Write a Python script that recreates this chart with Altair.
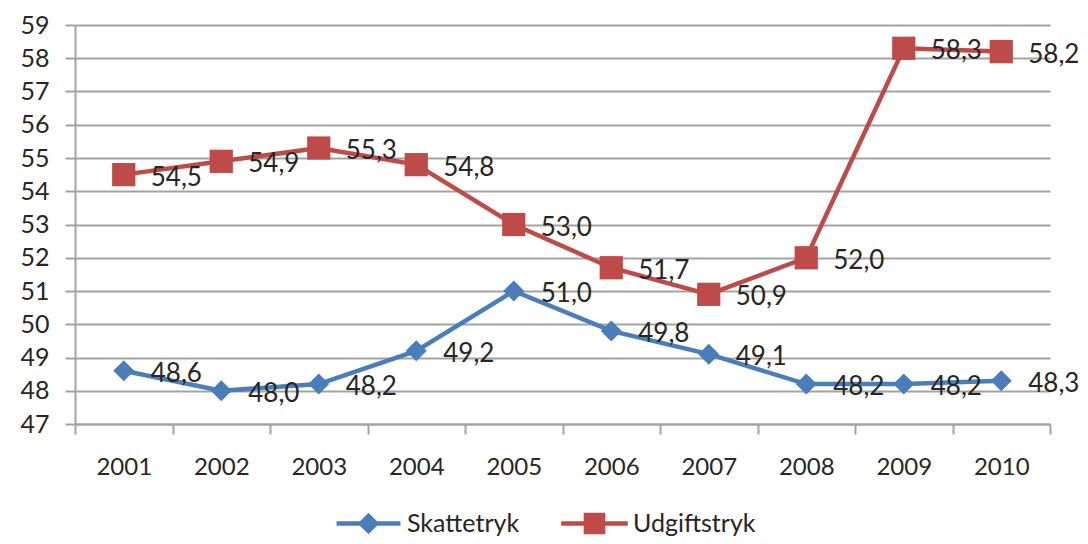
import altair as alt
import pandas as pd

years = ["2001", "2002", "2003", "2004", "2005", "2006", "2007", "2008", "2009", "2010"]
skattetryk = [48.6, 48.0, 48.2, 49.2, 51.0, 49.8, 49.1, 48.2, 48.2, 48.3]
udgiftstryk = [54.5, 54.9, 55.3, 54.8, 53.0, 51.7, 50.9, 52.0, 58.3, 58.2]
series_names = ["Skattetryk", "Udgiftstryk"]
series_colors = ["#4a7ebb", "#be4b48"]
y_ticks = list(range(47, 60))

rows = []
for name, vals in zip(series_names, [skattetryk, udgiftstryk]):
    for yr, v in zip(years, vals):
        rows.append({"year": yr, "value": v, "series": name,
                     "label": f"{v:.1f}".replace(".", ",")})
df = pd.DataFrame(rows)

FONT = "Lato"
GRID = "#a3a3a3"
TXT = "#262626"

color_scale = alt.Scale(domain=series_names, range=series_colors)

x_enc = alt.X("year:N", sort=years,
              scale=alt.Scale(type="band", paddingInner=0, paddingOuter=0),
              axis=alt.Axis(title=None, labelAngle=0, tickBand="extent", tickSize=10,
                            tickColor=GRID, tickWidth=2, domainColor=GRID, domainWidth=2,
                            labelFont=FONT, labelFontSize=24, labelColor=TXT,
                            labelPadding=21, grid=False))
y_enc = alt.Y("value:Q",
              scale=alt.Scale(domain=[47, 59], nice=False, zero=False),
              axis=alt.Axis(title=None, values=y_ticks, tickSize=10, tickColor=GRID,
                            tickWidth=2, domainColor=GRID, domainWidth=2,
                            grid=True, gridColor=GRID, gridWidth=2, labelOverlap=False,
                            labelFont=FONT, labelFontSize=25, labelColor=TXT,
                            labelPadding=16))

base = alt.Chart(df).encode(x=x_enc, y=y_enc)

lines = base.mark_line(strokeWidth=4.5).encode(
    color=alt.Color("series:N", scale=color_scale, legend=None),
    detail="series:N")

points = base.mark_point(filled=True, opacity=1).encode(
    color=alt.Color("series:N", scale=color_scale, legend=None),
    shape=alt.Shape("series:N", scale=alt.Scale(domain=series_names, range=["diamond", "square"]), legend=None),
    size=alt.Size("series:N", scale=alt.Scale(domain=series_names, range=[440, 540]), legend=None))

labels = base.mark_text(align="left", baseline="middle", dx=27, dy=3,
                        font=FONT, fontSize=26, color=TXT).encode(text="label:N")

legend_paths = [
    "M-3.55,0L3.55,0M-0.85,0L0,-0.85L0.85,0L0,0.85Z",
    "M-3.7,0L3.7,0M-0.95,-0.95L0.95,-0.95L0.95,0.95L-0.95,0.95Z",
]
legend_x = [281, 507]
legend_y = 486


def legend_layer(i):
    name = series_names[i]
    leg = alt.Legend(title=None, orient="none", legendX=legend_x[i], legendY=legend_y,
                     direction="horizontal", labelFont=FONT, labelFontSize=25,
                     labelColor=TXT, symbolSize=324, symbolType=legend_paths[i],
                     symbolStrokeWidth=4.5, symbolStrokeColor=series_colors[i],
                     symbolFillColor=series_colors[i], labelOffset=26, padding=0,
                     symbolOpacity=1)
    return (base.transform_filter("datum.value < 0")
            .mark_point(filled=True, opacity=1)
            .encode(fill=alt.Fill("series:N",
                                  scale=alt.Scale(domain=[name], range=[series_colors[i]]),
                                  legend=leg)))


chart = alt.layer(lines, points, labels, legend_layer(0), legend_layer(1)).resolve_scale(
    fill="independent").properties(
    width=975, height=399,
    autosize=alt.AutoSizeParams(type="none"),
    padding={"left": 67, "top": 17, "right": 30, "bottom": 114},
    background="white",
).configure_view(stroke=None)

chart.save("out.html", embed_options={"renderer": "svg", "actions": False})
